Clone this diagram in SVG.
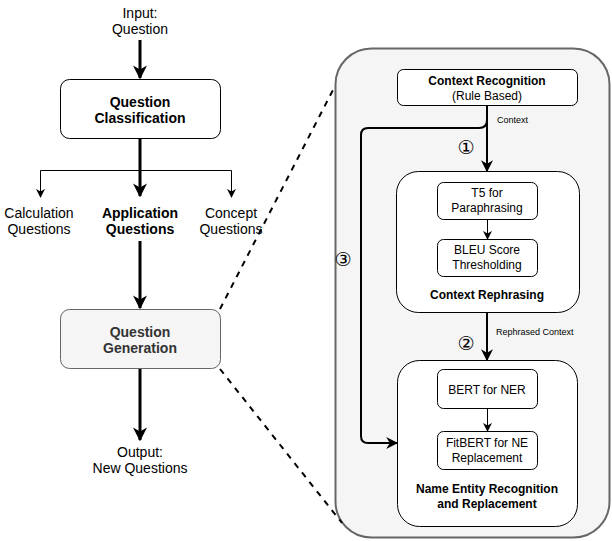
<svg xmlns="http://www.w3.org/2000/svg" width="612" height="541" viewBox="0 0 612 541">
<style>
text{font-family:"Liberation Sans",Arial,sans-serif;fill:#000;text-anchor:middle}
.t13{font-size:14px}
.t12{font-size:12px}
.t10{font-size:9px}
.num{font-family:"DejaVu Sans",sans-serif;font-size:19px}
.b{font-weight:bold}
.box{fill:#fff;stroke:#000;stroke-width:1}
.thick{fill:none;stroke:#000;stroke-width:3}
.thin{fill:none;stroke:#000;stroke-width:1}
.mid{fill:none;stroke:#000;stroke-width:2}
.dash{fill:none;stroke:#000;stroke-width:2;stroke-dasharray:6 6}
</style>
<defs>
<marker id="ah" viewBox="0 0 10 10" refX="9" refY="5" markerWidth="14" markerHeight="14" markerUnits="userSpaceOnUse" orient="auto"><path d="M0,0 L10,5 L0,10 L3,5 z" fill="#000"/></marker>
<marker id="ah1" viewBox="0 0 10 10" refX="9" refY="5" markerWidth="9" markerHeight="9" markerUnits="userSpaceOnUse" orient="auto"><path d="M0,0 L10,5 L0,10 L3,5 z" fill="#000"/></marker>
<marker id="ah2" viewBox="0 0 10 10" refX="9" refY="5" markerWidth="12" markerHeight="12" markerUnits="userSpaceOnUse" orient="auto"><path d="M0,0 L10,5 L0,10 L3,5 z" fill="#000"/></marker>
</defs>

<g id="container">
<rect x="335.5" y="48.5" width="274" height="489" rx="36" fill="#f5f5f5" stroke="#666" stroke-width="2"/>
</g>

<g id="input"><text class="t13" x="140" y="18">Input:</text><text class="t13" x="140" y="34">Question</text></g>

<g id="classification">
<rect class="box" x="60.5" y="79.5" width="160" height="59" rx="9"/>
<text class="t13 b" x="140" y="107">Question</text><text class="t13 b" x="140" y="123">Classification</text>
</g>

<g id="calculation"><text class="t13" x="39" y="218">Calculation</text><text class="t13" x="39" y="234">Questions</text></g>
<g id="application"><text class="t13 b" x="140" y="218">Application</text><text class="t13 b" x="140" y="234">Questions</text></g>
<g id="concept"><text class="t13" x="231" y="218">Concept</text><text class="t13" x="231" y="234">Questions</text></g>

<g id="generation">
<rect x="60.5" y="309.5" width="160" height="59" rx="9" fill="#f5f5f5" stroke="#666" stroke-width="1"/>
<text class="t13 b" x="140" y="337" style="fill:#333">Question</text><text class="t13 b" x="140" y="353" style="fill:#333">Generation</text>
</g>

<g id="output"><text class="t13" x="140" y="457">Output:</text><text class="t13" x="140" y="473">New Questions</text></g>

<g id="context-recognition">
<rect class="box" x="397.5" y="69.5" width="180" height="36" rx="6"/>
<text class="t12 b" x="487" y="85">Context Recognition</text><text class="t12" x="487" y="100">(Rule Based)</text>
</g>

<g id="context-rephrasing">
<rect class="box" x="396.5" y="171.5" width="183" height="141" rx="22"/>
<text class="t12 b" x="487" y="299">Context Rephrasing</text>
</g>
<g id="t5">
<rect class="box" x="437.5" y="182.5" width="100" height="37" rx="6"/>
<text class="t12" x="487" y="197">T5 for</text><text class="t12" x="487" y="212">Paraphrasing</text>
</g>
<g id="bleu">
<rect class="box" x="437.5" y="239.5" width="100" height="37" rx="6"/>
<text class="t12" x="487" y="254">BLEU Score</text><text class="t12" x="487" y="269">Thresholding</text>
</g>

<g id="ner">
<rect class="box" x="397.5" y="360.5" width="180" height="166" rx="22"/>
<text class="t12 b" x="487" y="493">Name Entity Recognition</text><text class="t12 b" x="487" y="508">and Replacement</text>
</g>
<g id="bert">
<rect class="box" x="437.5" y="369.5" width="100" height="39" rx="6"/>
<text class="t12" x="487" y="394">BERT for NER</text>
</g>
<g id="fitbert">
<rect class="box" x="437.5" y="431.5" width="100" height="38" rx="6"/>
<text class="t12" x="487" y="447">FitBERT for NE</text><text class="t12" x="487" y="462">Replacement</text>
</g>

<g id="connectors">
<path class="thick" d="M140,40 V78" marker-end="url(#ah)"/>
<path class="thick" d="M140,139 V196" marker-end="url(#ah)"/>
<path class="thin" d="M140,170.5 H40.5 V197" marker-end="url(#ah1)"/>
<path class="thin" d="M140,170.5 H231.5 V197" marker-end="url(#ah1)"/>
<path class="thick" d="M140,241 V308" marker-end="url(#ah)"/>
<path class="thick" d="M140,369 V440" marker-end="url(#ah)"/>
<path class="dash" d="M220,309 L334,88"/>
<path class="dash" d="M220,369 L342,523"/>
<path class="mid" d="M487,106 V171" marker-end="url(#ah2)"/>
<path class="mid" d="M487,313 V360" marker-end="url(#ah2)"/>
<path class="mid" d="M487,120 Q487,128 479,128 H368 Q361,128 361,135 V436 Q361,443 368,443 H397" marker-end="url(#ah2)"/>
<path class="thin" d="M487.5,220 V239" marker-end="url(#ah1)"/>
<path class="thin" d="M487.5,409 V431" marker-end="url(#ah1)"/>
</g>

<g id="labels">
<text class="t10" x="497" y="123" style="text-anchor:start">Context</text>
<text class="num" x="466" y="154">①</text>
<text class="t10" x="496" y="335" style="text-anchor:start">Rephrased Context</text>
<text class="num" x="466" y="350">②</text>
<text class="num" x="343" y="266">③</text>
</g>
</svg>
